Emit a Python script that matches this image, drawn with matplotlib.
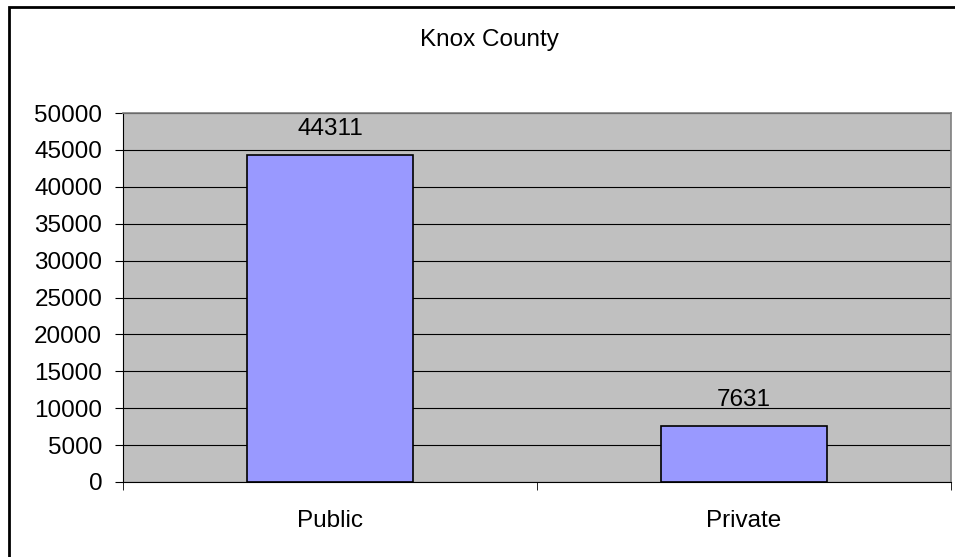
import matplotlib.pyplot as plt
from matplotlib.patches import Rectangle

plt.rcParams['font.family'] = ['Liberation Sans', 'DejaVu Sans']

# data
categories = ['Public', 'Private']
counts = [44311, 7631]
yticks = list(range(0, 50001, 5000))

fig = plt.figure(figsize=(9.55, 5.57), dpi=100)

# outer chart border (right/bottom run off the picture)
fig.patches.append(Rectangle((9 / 955, -0.05), 1.1, 1 - 7 / 557 + 0.05,
                             transform=fig.transFigure, fill=False,
                             edgecolor='black', linewidth=2))

ax = fig.add_axes([123 / 955, 1 - 482 / 557, 828 / 955, 369 / 557])
ax.set_facecolor('#C0C0C0')

x = list(range(len(categories)))
ax.set_axisbelow(True)
ax.grid(True, axis='y', color='black', linewidth=0.8)
bars = ax.bar(x, counts, width=0.4, color='#9999FF', edgecolor='black', linewidth=1.2)

for xi, v in zip(x, counts):
    ax.annotate(str(v), (xi, v), xytext=(0, 14.5), textcoords='offset points',
                ha='center', va='baseline', fontsize=17.5)

ax.set_xlim(-0.5, len(categories) - 0.5)
ax.set_ylim(0, 50000)
ax.set_yticks(yticks)
ax.set_yticklabels([str(t) for t in yticks], fontsize=17.5)
ax.set_xticks(x)
ax.set_xticklabels(categories, fontsize=17.5)
ax.tick_params(axis='x', length=0, pad=20)
ax.set_xticks([-0.5, 0.5, 1.5], minor=True)
ax.tick_params(axis='x', which='minor', length=6, color='black')
ax.tick_params(axis='y', length=6, color='black', pad=9)

for side in ['top', 'right']:
    ax.spines[side].set_color('#808080')
    ax.spines[side].set_linewidth(1.2)
ax.spines['left'].set_color('black')
ax.spines['bottom'].set_color('black')

fig.text(489 / 955, 1 - 40 / 557, 'Knox County', ha='center', va='center', fontsize=17.5)

fig.savefig('out.png', dpi=100)
